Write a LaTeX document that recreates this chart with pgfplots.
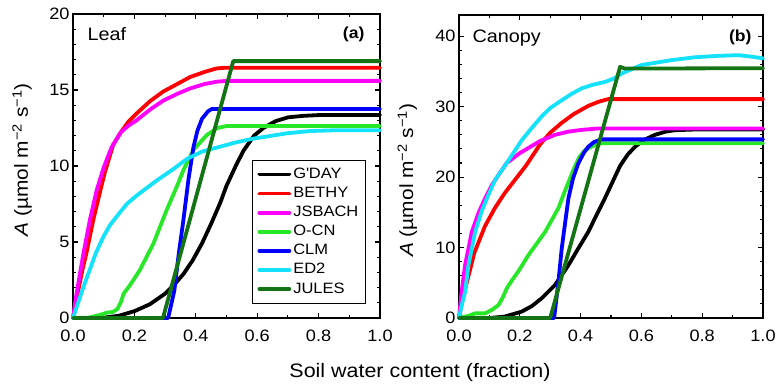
\documentclass[border=0pt]{standalone}
\usepackage{fontspec}
\setmainfont{Liberation Sans}[FakeStretch=1.1]
\usepackage{pgfplots}
\pgfplotsset{compat=1.18}
\definecolor{cLime}{RGB}{40,230,40}
\definecolor{cCyan}{RGB}{20,225,250}
\definecolor{cDk}{RGB}{20,115,20}
\definecolor{cRed}{RGB}{255,0,0}
\definecolor{cMag}{RGB}{255,0,255}
\definecolor{cBlue}{RGB}{0,0,255}
\pgfplotsset{
 myax/.style={
  scale only axis, anchor=south west,
  xmin=0, xmax=1, ymin=0,
  xtick={0,0.2,0.4,0.6,0.8,1}, minor x tick num=1,
  minor y tick num=4,
  tick align=inside,
  major tick length=5pt, minor tick length=3pt,
  every tick/.style={black, line width=1.1pt},
  axis line style={line width=1.8pt},
  /pgf/number format/assume math mode=true,
  tick label style={font=\fontsize{16.5}{18}\selectfont},
  xticklabel style={yshift=-8pt, /pgf/number format/.cd, fixed, fixed zerofill, precision=1},
  yticklabel style={/pgf/number format/.cd, fixed},
  scaled ticks=false,
  clip=false,
  every axis plot/.append style={line width=3.8pt, line join=round, line cap=round, no marks},
  legend image code/.code={\draw[#1] (0pt,0pt) -- (30pt,0pt);},
 }
}
\begin{document}
\begin{tikzpicture}
\useasboundingbox (0pt,0pt) rectangle (777pt,384pt);
% ---------------- Leaf ----------------
\begin{axis}[myax, at={(73pt,66pt)}, width=307pt, height=304pt,
  ymax=20, ytick={0,5,10,15,20},
  ylabel={\textit{A} (µmol m\textsuperscript{−2} s\textsuperscript{−1})},
  ylabel style={at={(axis description cs:-0.147,0.52)}, anchor=base, font=\fontsize{19}{22}\selectfont},
  legend style={at={(rel axis cs:0.583,0.52)}, anchor=north west, draw=black, line width=1pt,
    font=\fontsize{15}{17}\selectfont, inner xsep=5pt, inner ysep=5.5pt, row sep=2.1pt,
    nodes={text height=10.5pt, text depth=2.5pt, inner sep=2pt}},
  legend cell align=left]
\addplot[black] coordinates {(0,0) (0.05,0) (0.1,0.02) (0.15,0.15) (0.2,0.45) (0.25,0.9) (0.3,1.6) (0.33,2.2) (0.36,2.9) (0.39,3.8) (0.42,4.9) (0.45,6.2) (0.48,7.6) (0.5,8.7) (0.53,10.0) (0.555,11.0) (0.59,12.0) (0.62,12.5) (0.66,12.95) (0.7,13.2) (0.75,13.3) (0.8,13.35) (1,13.35)};
\addlegendentry{G\textquotesingle DAY}
\addplot[cRed] coordinates {(0,0) (0.01,1.1) (0.02,2.1) (0.03,3.1) (0.044,4.3) (0.066,6.45) (0.088,8.3) (0.104,9.6) (0.131,11.4) (0.155,12.2) (0.18,12.9) (0.207,13.45) (0.25,14.25) (0.294,14.9) (0.34,15.4) (0.381,15.85) (0.43,16.2) (0.468,16.42) (0.5,16.47) (1,16.47)};
\addlegendentry{BETHY}
\addplot[cMag] coordinates {(0,0) (0.01,1.4) (0.02,2.6) (0.034,4.25) (0.055,6.45) (0.077,8.4) (0.1,9.9) (0.125,11.2) (0.155,12.2) (0.18,12.65) (0.207,13.0) (0.25,13.7) (0.294,14.3) (0.34,14.75) (0.381,15.1) (0.43,15.4) (0.47,15.55) (0.5,15.6) (1,15.6)};
\addlegendentry{JSBACH}
\addplot[cLime] coordinates {(0,0) (0.05,0.02) (0.088,0.2) (0.11,0.35) (0.13,0.4) (0.145,0.6) (0.155,1.0) (0.165,1.6) (0.186,2.17) (0.218,3.16) (0.262,4.9) (0.305,7.1) (0.338,8.64) (0.36,9.74) (0.392,11.05) (0.436,12.04) (0.47,12.5) (0.5,12.63) (1,12.63)};
\addlegendentry{O-CN}
\addplot[cBlue] coordinates {(0,0) (0.31,0) (0.33,1.8) (0.345,4.3) (0.36,6.5) (0.376,9.1) (0.392,11.2) (0.405,12.3) (0.42,13.1) (0.44,13.6) (0.452,13.75) (1,13.75)};
\addlegendentry{CLM}
\addplot[cCyan] coordinates {(0,0) (0.02,1.2) (0.035,2.1) (0.055,3.2) (0.075,4.3) (0.099,5.35) (0.12,6.1) (0.142,6.67) (0.175,7.5) (0.207,8.05) (0.24,8.55) (0.273,9.05) (0.327,9.8) (0.37,10.45) (0.42,10.95) (0.479,11.27) (0.53,11.55) (0.587,11.8) (0.65,12.0) (0.696,12.15) (0.772,12.3) (0.85,12.35) (1,12.35)};
\addlegendentry{ED2}
\addplot[cDk] coordinates {(0,0) (0.293,0) (0.522,16.9) (1,16.9)};
\addlegendentry{JULES}
\node[anchor=base west, font=\fontsize{18}{20}\selectfont] at (rel axis cs:0.036,0.914) {Leaf};
\node[anchor=base east, font=\fontsize{16}{18}\selectfont\bfseries] at (rel axis cs:0.961,0.918) {(a)};
\end{axis}
% ---------------- Canopy ----------------
\begin{axis}[myax, at={(459pt,66pt)}, width=304pt, height=303pt,
  ymax=43, ytick={0,10,20,30,40},
  ylabel={\textit{A} (µmol m\textsuperscript{−2} s\textsuperscript{−1})},
  ylabel style={at={(axis description cs:-0.151,0.455)}, anchor=base, font=\fontsize{19}{22}\selectfont}]
\addplot[black] coordinates {(0,0) (0.1,0) (0.15,0.2) (0.206,0.9) (0.24,1.7) (0.272,2.8) (0.316,4.7) (0.36,7.5) (0.39,9.7) (0.425,12.2) (0.45,14.4) (0.48,17.0) (0.505,19.3) (0.53,21.6) (0.555,23.2) (0.579,24.3) (0.61,25.3) (0.645,26.0) (0.68,26.45) (0.71,26.65) (0.776,26.75) (1,26.75)};
\addplot[cRed] coordinates {(0,0) (0.01,2.3) (0.025,4.9) (0.05,9.2) (0.085,13.0) (0.118,15.6) (0.15,17.7) (0.184,19.6) (0.22,21.6) (0.266,24.6) (0.3,26.3) (0.338,27.7) (0.376,28.9) (0.425,30.1) (0.46,30.7) (0.49,31.06) (1,31.06)};
\addplot[cMag] coordinates {(0,0) (0.008,3.5) (0.02,7.5) (0.042,12.2) (0.065,15.0) (0.086,17.0) (0.11,19.0) (0.13,20.3) (0.157,22.0) (0.2,23.4) (0.239,24.4) (0.266,25.1) (0.316,26.0) (0.36,26.45) (0.404,26.7) (0.458,26.9) (1,26.9)};
\addplot[cLime] coordinates {(0,0) (0.03,0.3) (0.053,0.66) (0.086,0.66) (0.11,1.2) (0.13,1.84) (0.145,3.0) (0.157,4.2) (0.175,5.4) (0.195,6.6) (0.228,8.9) (0.283,12.2) (0.327,15.6) (0.35,18.2) (0.376,21.0) (0.395,22.8) (0.414,23.8) (0.44,24.4) (0.469,24.8) (1,24.8)};
\addplot[cBlue] coordinates {(0,0) (0.313,0) (0.327,5.15) (0.338,9.9) (0.35,13.8) (0.36,17.0) (0.375,19.8) (0.392,21.9) (0.41,23.4) (0.425,24.3) (0.445,25.0) (0.469,25.35) (1,25.35)};
\addplot[cCyan] coordinates {(0,0) (0.01,2) (0.02,3.7) (0.031,7.5) (0.053,12.2) (0.075,15.2) (0.096,17.4) (0.12,19.7) (0.151,21.6) (0.18,23.5) (0.206,25.2) (0.24,27.0) (0.272,28.6) (0.3,29.8) (0.338,30.9) (0.37,31.8) (0.404,32.6) (0.44,33.1) (0.48,33.5) (0.51,34.0) (0.535,34.7) (0.6,35.9) (0.7,36.6) (0.776,37.0) (0.85,37.2) (0.92,37.3) (0.96,37.1) (1,36.85)};
\addplot[cDk] coordinates {(0,0) (0.3,0) (0.53,35.65) (0.545,35.4) (1,35.45)};
\node[anchor=base west, font=\fontsize{18}{20}\selectfont] at (rel axis cs:0.033,0.908) {Canopy};
\node[anchor=base east, font=\fontsize{16}{18}\selectfont\bfseries] at (rel axis cs:0.974,0.914) {(b)};
\end{axis}
\node[anchor=base, font=\fontsize{19.5}{22}\selectfont] at (420pt,7pt) {Soil water content (fraction)};
\end{tikzpicture}
\end{document}
